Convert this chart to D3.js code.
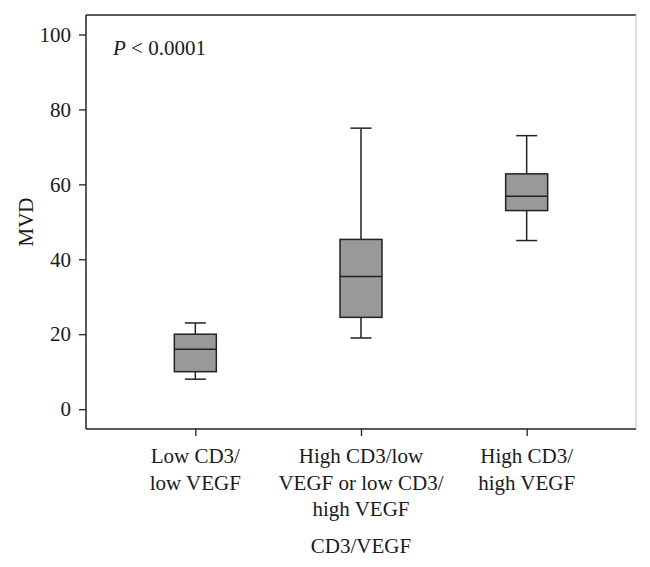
<!DOCTYPE html>
<html>
<head>
<meta charset="utf-8">
<script src="https://cdn.jsdelivr.net/npm/d3@7"></script>
<style>
  html, body { margin: 0; padding: 0; background: #fff; }
  svg text { font-family: "Liberation Serif", "Times New Roman", serif; fill: #1a1a1a; }
</style>
</head>
<body>
<svg id="chart" width="650" height="567"></svg>
<script>
// Data
const categories = ["Low CD3/\nlow VEGF", "High CD3/low\nVEGF or low CD3/\nhigh VEGF", "High CD3/\nhigh VEGF"];
const whiskerLow = [8, 19, 45];
const q1 = [10, 24.5, 53];
const median = [16, 35.4, 56.8];
const q3 = [20, 45.3, 62.8];
const whiskerHigh = [23, 75, 73];
const yTicks = [0, 20, 40, 60, 80, 100];
const yLabel = "MVD";
const xLabel = "CD3/VEGF";
const annotation = "< 0.0001";

(function () {
const svg = d3.select("#chart");
const pLeft = 86, pRight = 636, pTop = 15, pBottom = 429;

const x = d3.scalePoint().domain(d3.range(categories.length)).range([pLeft, pRight]).padding(0.66);
const y = d3.scaleLinear().domain([-5.3, 105.2]).range([pBottom, pTop]);

const fontSize = 21;
const stroke = "#222";

// Frame top and right
svg.append("line").attr("x1", pLeft).attr("x2", pRight).attr("y1", pTop).attr("y2", pTop)
  .attr("stroke", stroke).attr("stroke-width", 1.5);
svg.append("line").attr("x1", pRight).attr("x2", pRight).attr("y1", pTop).attr("y2", pBottom)
  .attr("stroke", "#bbb").attr("stroke-width", 1);

// Axes
const yAxis = d3.axisLeft(y).tickValues(yTicks).tickSize(7).tickPadding(8).tickSizeOuter(0);
const gy = svg.append("g").attr("transform", `translate(${pLeft},0)`).call(yAxis);
gy.select(".domain").remove();
gy.append("line").attr("x1", 0).attr("x2", 0).attr("y1", pTop).attr("y2", pBottom)
  .attr("stroke", stroke).attr("stroke-width", 1.5);
gy.selectAll(".tick line").attr("stroke", stroke).attr("stroke-width", 1.3);
gy.selectAll(".tick text").attr("font-size", fontSize).attr("font-family", "Liberation Serif").attr("fill", "#1a1a1a");

const xAxis = d3.axisBottom(x).tickSize(7).tickFormat(() => "").tickSizeOuter(0);
const gx = svg.append("g").attr("transform", `translate(0,${pBottom})`).call(xAxis);
gx.select(".domain").remove();
gx.append("line").attr("x1", pLeft).attr("x2", pRight).attr("y1", 0).attr("y2", 0)
  .attr("stroke", stroke).attr("stroke-width", 1.5);
gx.selectAll(".tick line").attr("stroke", stroke).attr("stroke-width", 1.3);

// Category labels
categories.forEach((c, i) => {
  const t = svg.append("text").attr("text-anchor", "middle").attr("font-size", fontSize)
    .attr("x", x(i)).attr("y", 463);
  c.split("\n").forEach((line, j) => {
    t.append("tspan").attr("x", x(i)).attr("dy", j === 0 ? 0 : 26.5).text(line);
  });
});

// Axis titles
svg.append("text").attr("text-anchor", "middle").attr("font-size", fontSize)
  .attr("x", x(1)).attr("y", 553).text(xLabel);
svg.append("text").attr("text-anchor", "middle").attr("font-size", fontSize)
  .attr("transform", `translate(33,${(pTop + pBottom) / 2}) rotate(-90)`).text(yLabel);

// Annotation
const ann = svg.append("text").attr("font-size", fontSize).attr("x", 113).attr("y", 55);
ann.append("tspan").attr("font-style", "italic").text("P");
ann.append("tspan").text(" " + annotation);

// Boxes
const boxW = 42, capW = 21;
const g = svg.append("g");
categories.forEach((c, i) => {
  const cx = x(i);
  g.append("line").attr("x1", cx).attr("x2", cx).attr("y1", y(whiskerHigh[i])).attr("y2", y(q3[i]))
    .attr("stroke", stroke).attr("stroke-width", 1.5);
  g.append("line").attr("x1", cx).attr("x2", cx).attr("y1", y(q1[i])).attr("y2", y(whiskerLow[i]))
    .attr("stroke", stroke).attr("stroke-width", 1.5);
  g.append("line").attr("x1", cx - capW / 2).attr("x2", cx + capW / 2).attr("y1", y(whiskerHigh[i])).attr("y2", y(whiskerHigh[i]))
    .attr("stroke", stroke).attr("stroke-width", 1.5);
  g.append("line").attr("x1", cx - capW / 2).attr("x2", cx + capW / 2).attr("y1", y(whiskerLow[i])).attr("y2", y(whiskerLow[i]))
    .attr("stroke", stroke).attr("stroke-width", 1.5);
  g.append("rect").attr("x", cx - boxW / 2).attr("width", boxW)
    .attr("y", y(q3[i])).attr("height", y(q1[i]) - y(q3[i]))
    .attr("fill", "#999").attr("stroke", stroke).attr("stroke-width", 1.5);
  g.append("line").attr("x1", cx - boxW / 2).attr("x2", cx + boxW / 2).attr("y1", y(median[i])).attr("y2", y(median[i]))
    .attr("stroke", stroke).attr("stroke-width", 1.5);
});
})();
</script>
</body>
</html>
